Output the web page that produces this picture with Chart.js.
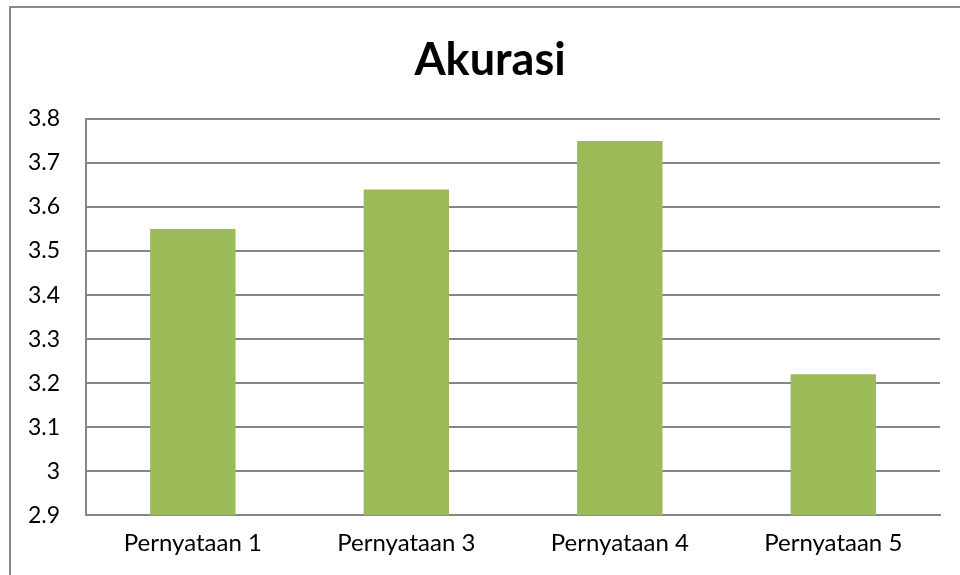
<!DOCTYPE html>
<html>
<head>
<meta charset="utf-8">
<script src="https://cdn.jsdelivr.net/npm/chart.js@4"></script>
<style>
  body { margin: 0; background: #fff; }
  #wrap { position: relative; width: 960px; height: 575px; overflow: hidden; }
  #frame { position: absolute; left: 9px; top: 6px; width: 1000px; height: 620px; border: 2px solid #8a8a8a; box-sizing: border-box; }
  canvas { position: absolute; left: 0; top: 0; }
</style>
</head>
<body>
<div id="wrap">
  <div id="frame"></div>
  <canvas id="chart" width="960" height="575"></canvas>
</div>
<script>
const chartTitle = 'Akurasi';
const labels = ['Pernyataan 1', 'Pernyataan 3', 'Pernyataan 4', 'Pernyataan 5'];
const akurasi = [3.55, 3.64, 3.75, 3.22];
const yMin = 2.9;
const yMax = 3.8;

// title drawn by hand so it sits a bit right of centre, like the original
const titlePlugin = {
  id: 'chartTitle',
  afterDraw(chart) {
    const c = chart.ctx;
    c.save();
    c.fillStyle = '#000';
    c.font = 'bold 45px Lato';
    c.textAlign = 'center';
    c.textBaseline = 'middle';
    c.fillText(chartTitle, 490, 60);
    c.restore();
  }
};

const ctx = document.getElementById('chart').getContext('2d');
new Chart(ctx, {
  type: 'bar',
  data: {
    labels: labels,
    datasets: [{
      label: chartTitle,
      data: akurasi,
      backgroundColor: '#9bbb59',
      categoryPercentage: 1,
      barPercentage: 0.4
    }]
  },
  options: {
    responsive: false,
    animation: false,
    layout: { padding: { left: 2, right: 20, top: 119, bottom: 3 } },
    plugins: {
      legend: { display: false },
      tooltip: { enabled: false },
      title: { display: false }
    },
    scales: {
      x: {
        grid: { display: false, drawTicks: false },
        border: { display: true, color: '#868686', width: 2 },
        ticks: { color: '#000', font: { family: 'Lato', size: 24 }, padding: 14 }
      },
      y: {
        min: yMin,
        max: yMax,
        grid: { color: '#868686', lineWidth: 2, drawTicks: false },
        border: { display: true, color: '#868686', width: 2 },
        ticks: {
          stepSize: 0.1,
          color: '#000',
          font: { family: 'Lato', size: 23 },
          padding: 26,
          callback: function (v) { return Math.round(v * 10) / 10; }
        }
      }
    }
  },
  plugins: [titlePlugin]
});
</script>
</body>
</html>
